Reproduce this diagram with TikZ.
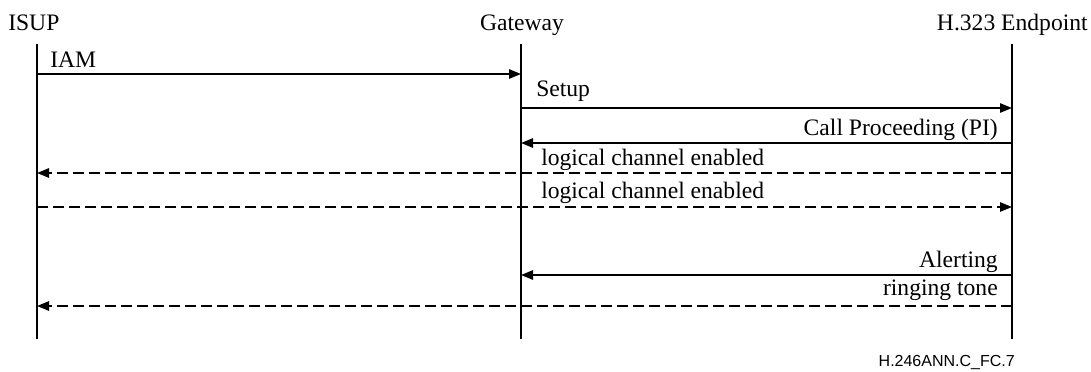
\documentclass[tikz,border=0pt]{standalone}
\usepackage{fontspec}
\setmainfont{Liberation Serif}
\newfontfamily\labsans{Liberation Sans}
\usetikzlibrary{arrows.meta}
\begin{document}
\begin{tikzpicture}[x=0.75pt,y=-0.75pt,
  lifeline/.style={line width=1.3pt},
  msg/.style={line width=1.3pt,-{Triangle[length=9pt,width=7pt]}},
  dmsg/.style={msg,dash pattern=on 8pt off 4pt},
  lbl/.style={font=\fontsize{17.7}{20}\selectfont,inner sep=0pt},
  title/.style={font=\fontsize{17.7}{20}\selectfont,inner sep=0pt,anchor=base}]
\useasboundingbox (0,0) rectangle (1091,371);
% participants
\node[title,anchor=base west] (isup) at (8,31) {ISUP};
\node[title] (gw) at (522,31) {Gateway};
\node[title,anchor=base east] (ep) at (1088,31) {H.323 Endpoint};
% lifelines
\coordinate (it) at (37,44); \coordinate (ib) at (37,339);
\coordinate (gt) at (521,44); \coordinate (gb) at (521,339);
\coordinate (et) at (1012,44); \coordinate (eb) at (1012,339);
\draw[lifeline] (it) -- (ib);
\draw[lifeline] (gt) -- (gb);
\draw[lifeline] (et) -- (eb);
% message anchor points
\coordinate (i1) at (37,74);   \coordinate (g1) at (521,74);
\coordinate (g2) at (521,108); \coordinate (e2) at (1012,108);
\coordinate (e3) at (1012,143);\coordinate (g3) at (521,143);
\coordinate (e4) at (1012,173);\coordinate (i4) at (37,173);
\coordinate (i5) at (37,207);  \coordinate (e5) at (1012,207);
\coordinate (e6) at (1012,275);\coordinate (g6) at (521,275);
\coordinate (e7) at (1012,306);\coordinate (i7) at (37,306);
% messages
\draw[msg] (i1) -- (g1);
\draw[msg] (g2) -- (e2);
\draw[msg] (e3) -- (g3);
\draw[dmsg] (e4) -- (i4);
\draw[dmsg] (i5) -- (e5);
\draw[msg] (e6) -- (g6);
\draw[dmsg] (e7) -- (i7);
% labels
\node[lbl,anchor=base west] (l1) at (50,67) {IAM};
\node[lbl,anchor=base west] (l2) at (536,96) {Setup};
\node[lbl,anchor=base east] (l3) at (998,135) {Call Proceeding (PI)};
\node[lbl,anchor=base west] (l4) at (541,165) {logical channel enabled};
\node[lbl,anchor=base west] (l5) at (541,198) {logical channel enabled};
\node[lbl,anchor=base east] (l6) at (998,267) {Alerting};
\node[lbl,anchor=base east] (l7) at (998,295) {ringing tone};
\node[inner sep=0pt,anchor=base east,font=\labsans\fontsize{12}{14}\selectfont] (fig) at (1015,366) {H.246ANN.C\_FC.7};
\end{tikzpicture}
\end{document}
